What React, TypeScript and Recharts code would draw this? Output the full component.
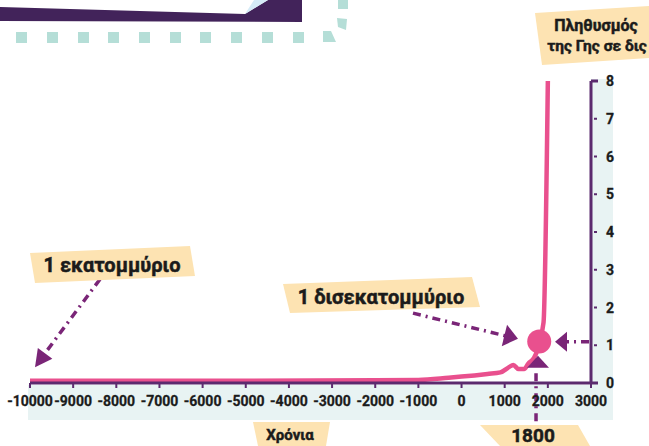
import { Line, LineChart, ReferenceDot, ReferenceLine, XAxis, YAxis } from 'recharts'

// world population (billions)
const years = [-10000, -5000, -2000, -1000, -300, 0, 600, 900, 1100, 1200, 1320, 1450, 1550, 1670, 1750, 1800, 1900, 2000]
const population = [0.06, 0.06, 0.07, 0.08, 0.14, 0.17, 0.24, 0.28, 0.42, 0.48, 0.37, 0.37, 0.52, 0.65, 0.85, 1.1, 1.6, 8]
const xTicks = [-10000, -9000, -8000, -7000, -6000, -5000, -4000, -3000, -2000, -1000, 0, 1000, 2000, 3000]
const yTicks = [0, 1, 2, 3, 4, 5, 6, 7, 8]

const highlightYear = 1800
const highlightValue = 1.1

// dash-dot pointers, in data coordinates
const pointerLines = [
  { from: { x: -8378, y: 2.75 }, to: { x: -9747, y: 0.64 } },
  { from: { x: -1125, y: 1.85 }, to: { x: 1084, y: 1.23 } },
  { from: { x: 2954, y: 1.09 }, to: { x: 2397, y: 1.09 } },
  { from: { x: 1726, y: 0.26 }, to: { x: 1726, y: -1.09 } },
]
const pointerHeads = [
  { x: -9884, y: 0.42, angle: 126.4, len: 17, half: 9 },
  { x: 1308, y: 1.17, angle: 13.9, len: 14, half: 11 },
  { x: 2166, y: 1.09, angle: 180, len: 12, half: 10 },
  { x: 1772, y: 0.72, angle: -90, len: 12, half: 11 },
]

const data = years.map((year, i) => ({ year, value: population[i] }))

const PINK = '#e9508e'
const AXIS = '#5b2a6e'
const ARROW = '#7a2577'
const TAG = '#fde3b2'
const STRIP = '#e8f3f3'
const TEAL = '#b5ded7'
const INK = '#1b1b1b'
const FONT = "Roboto, 'DejaVu Sans', sans-serif"

function ArrowHead({ cx, cy, angle, len, half }: any) {
  return (
    <polygon
      points={`0,0 ${-len},${-half} ${-len},${half}`}
      transform={`translate(${cx},${cy}) rotate(${angle})`}
      fill={ARROW}
    />
  )
}

function YTick({ x, y, payload }: any) {
  const edge = payload.value === 0 || payload.value === 8
  return (
    <g>
      {edge ? (
        <line x1={x} x2={x + 7} y1={y} y2={y} stroke={AXIS} strokeWidth={3} />
      ) : (
        <line x1={x + 3} x2={x + 6} y1={y} y2={y} stroke={AXIS} strokeWidth={2} />
      )}
      <text
        x={x + 15}
        y={y}
        dy="0.36em"
        fontSize={14}
        fontWeight={700}
        fontFamily={FONT}
        fill={INK}
        stroke={INK}
        strokeWidth={0.3}
      >
        {payload.value}
      </text>
    </g>
  )
}

const tagText = {
  fontFamily: FONT,
  fontWeight: 700,
  fill: INK,
  stroke: INK,
  strokeWidth: 0.5,
  textAnchor: 'middle' as const,
}

export default function App() {
  return (
    <div style={{ position: 'absolute', left: 0, top: 0, width: 649, height: 446, background: '#fff', overflow: 'hidden' }}>
      <svg width={649} height={446} style={{ position: 'absolute', left: 0, top: 0 }}>
        <rect x={28} y={385} width={585} height={35} fill={STRIP} />
        <rect x={591} y={79} width={22} height={306} fill={STRIP} />
        <polygon points="0,7 245,14 268,0 302,0 302,22 0,21" fill="#42235a" />
        <polygon points="245,14 254,0 268,0" fill="#d5ebf7" />
        {[16, 47, 78, 108, 139, 170, 200, 231, 262, 293].map((x) => (
          <rect key={x} x={x} y={32} width={11} height={11} fill={TEAL} />
        ))}
        <polygon points="323,31 331,31 336,42 323,42" fill={TEAL} />
        <polygon points="337,18 347,19 346,30 338,27" fill={TEAL} />
        <rect x={338} y={0} width={10} height={9} fill={TEAL} />
      </svg>

      <div style={{ position: 'absolute', left: 0, top: 0 }}>
        <LineChart width={649} height={446} data={data} margin={{ top: 81, right: 0, bottom: 23, left: 30 }}>
          <XAxis
            dataKey="year"
            type="number"
            domain={[-10000, 3000]}
            ticks={xTicks}
            interval={0}
            height={40}
            tickSize={5}
            tickMargin={8}
            axisLine={{ stroke: AXIS, strokeWidth: 3 }}
            tickLine={{ stroke: AXIS, strokeWidth: 2 }}
            tick={{ fill: INK, stroke: INK, strokeWidth: 0.3, fontSize: 14, fontWeight: 700, fontFamily: FONT }}
          />
          <YAxis
            orientation="right"
            domain={[0, 8]}
            ticks={yTicks}
            interval={0}
            width={58}
            tickSize={0}
            tickMargin={0}
            tickLine={false}
            axisLine={{ stroke: AXIS, strokeWidth: 3 }}
            tick={<YTick />}
          />
          <Line
            dataKey="value"
            type="monotone"
            stroke={PINK}
            strokeWidth={4.5}
            dot={false}
            isAnimationActive={false}
          />
          {pointerLines.map((p, i) => (
            <ReferenceLine
              key={`pl-${i}`}
              segment={[p.from, p.to]}
              stroke={ARROW}
              strokeWidth={3.5}
              strokeDasharray="8 5 2 5"
              ifOverflow="visible"
            />
          ))}
          {pointerHeads.map((h, i) => (
            <ReferenceDot
              key={`ph-${i}`}
              x={h.x}
              y={h.y}
              r={1}
              ifOverflow="visible"
              shape={(p: any) => <ArrowHead cx={p.cx} cy={p.cy} angle={h.angle} len={h.len} half={h.half} />}
            />
          ))}
          <ReferenceDot x={highlightYear} y={highlightValue} r={12} fill={PINK} stroke="none" />
        </LineChart>
      </div>

      <svg width={649} height={446} style={{ position: 'absolute', left: 0, top: 0, pointerEvents: 'none' }}>
        <polygon points="535,13 649,6 649,58 542,65" fill={TAG} />
        <text x={596} y={25} dy="0.36em" fontSize={16} {...tagText}>Πληθυσμός</text>
        <text x={597} y={45} dy="0.36em" fontSize={15.5} {...tagText}>της Γης σε δις</text>

        <polygon points="30,253 190,246 195,276 35,283" fill={TAG} />
        <text x={112} y={265} dy="0.36em" fontSize={20} {...tagText}>1 εκατομμύριο</text>

        <polygon points="283,284 472,277 480,307 290,313" fill={TAG} />
        <text x={381} y={297} dy="0.36em" fontSize={20} {...tagText}>1 δισεκατομμύριο</text>

        <polygon points="253,422 330,422 326,446 258,446" fill={TAG} />
        <text x={290} y={435} dy="0.36em" fontSize={15} {...tagText}>Χρόνια</text>

        <polygon points="480,425 578,425 590,446 500,446" fill={TAG} />
        <text x={533} y={435} dy="0.36em" fontSize={19} {...tagText}>1800</text>
      </svg>
    </div>
  )
}
